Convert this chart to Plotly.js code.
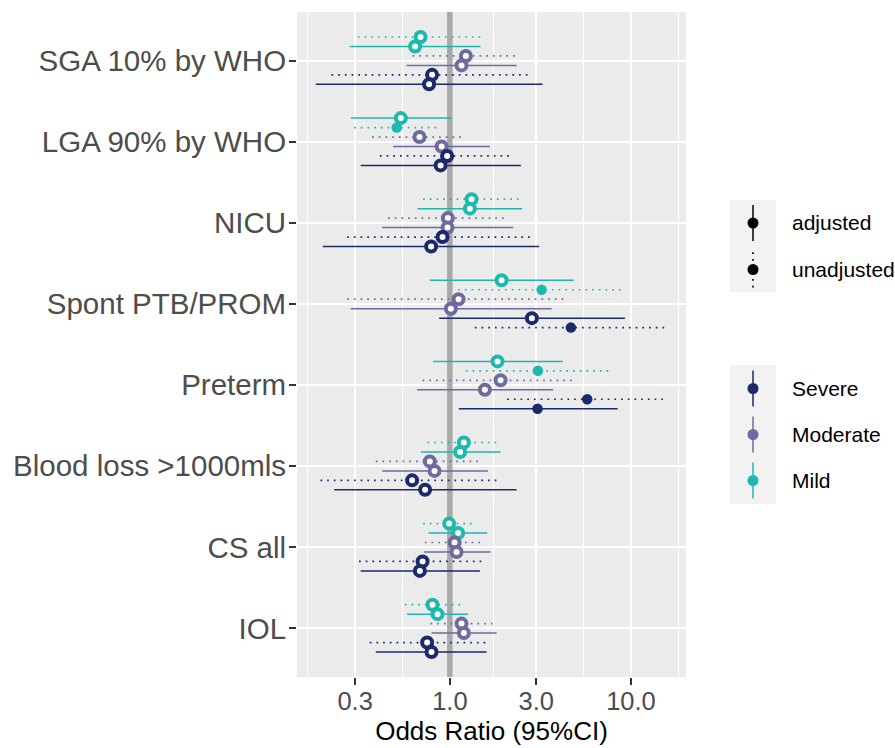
<!DOCTYPE html>
<html>
<head>
<meta charset="utf-8">
<script src="https://cdn.plot.ly/plotly-3.0.1.min.js"></script>
<style>
html, body { margin: 0; padding: 0; background: #ffffff; }
#chart { width: 895px; height: 748px; }
</style>
</head>
<body>
<div id="chart"></div>
<script>
// ---------------- DATA ----------------
const categories = ["SGA 10% by WHO", "LGA 90% by WHO", "NICU", "Spont PTB/PROM",
                    "Preterm", "Blood loss >1000mls", "CS all", "IOL"];
const severityLevels = ["Severe", "Moderate", "Mild"];
const adjustmentTypes = ["adjusted", "unadjusted"];

// Severe
const severeAdjOR   = [0.768, 0.889, 0.788, 2.838, 3.050, 0.730, 0.683, 0.792];
const severeAdjLo   = [0.182, 0.322, 0.199, 0.873, 1.121, 0.230, 0.322, 0.390];
const severeAdjHi   = [3.252, 2.467, 3.114, 9.270, 8.445, 2.336, 1.465, 1.595];
const severeUnadjOR = [0.798, 0.966, 0.911, 4.660, 5.735, 0.619, 0.707, 0.749];
const severeUnadjLo = [0.222, 0.411, 0.271, 1.374, 2.073, 0.193, 0.315, 0.361];
const severeUnadjHi = [2.792, 2.173, 2.923, 15.87, 15.41, 1.873, 1.527, 1.580];
// Moderate
const moderateAdjOR   = [1.160, 0.900, 0.971, 1.013, 1.561, 0.823, 1.089, 1.195];
const moderateAdjLo   = [0.576, 0.486, 0.423, 0.283, 0.660, 0.423, 0.718, 0.792];
const moderateAdjHi   = [2.336, 1.664, 2.237, 3.647, 3.722, 1.622, 1.678, 1.811];
const moderateUnadjOR = [1.226, 0.680, 0.975, 1.117, 1.906, 0.775, 1.062, 1.160];
const moderateUnadjLo = [0.622, 0.372, 0.456, 0.271, 0.707, 0.390, 0.727, 0.782];
const moderateUnadjHi = [2.336, 1.175, 2.039, 4.504, 4.840, 1.465, 1.497, 1.735];
// Mild
const mildAdjOR   = [0.643, 0.536, 1.290, 1.930, 1.834, 1.140, 1.111, 0.855];
const mildAdjLo   = [0.280, 0.284, 0.663, 0.775, 0.809, 0.692, 0.763, 0.581];
const mildAdjHi   = [1.477, 1.017, 2.508, 4.840, 4.195, 1.906, 1.607, 1.262];
const mildUnadjOR = [0.689, 0.509, 1.318, 3.212, 3.063, 1.195, 0.991, 0.802];
const mildUnadjLo = [0.311, 0.296, 0.712, 1.111, 1.226, 0.753, 0.712, 0.564];
const mildUnadjHi = [1.516, 0.855, 2.436, 9.070, 7.725, 1.834, 1.335, 1.146];

// dodge order of rows within each category (top to bottom), as in the source data
const rowOrder = [
  ["Mild|unadjusted", "Mild|adjusted", "Moderate|unadjusted", "Moderate|adjusted", "Severe|unadjusted", "Severe|adjusted"],
  ["Mild|adjusted", "Mild|unadjusted", "Moderate|unadjusted", "Moderate|adjusted", "Severe|unadjusted", "Severe|adjusted"],
  ["Mild|unadjusted", "Mild|adjusted", "Moderate|unadjusted", "Moderate|adjusted", "Severe|unadjusted", "Severe|adjusted"],
  ["Mild|adjusted", "Mild|unadjusted", "Moderate|unadjusted", "Moderate|adjusted", "Severe|adjusted", "Severe|unadjusted"],
  ["Mild|adjusted", "Mild|unadjusted", "Moderate|unadjusted", "Moderate|adjusted", "Severe|unadjusted", "Severe|adjusted"],
  ["Mild|unadjusted", "Mild|adjusted", "Moderate|unadjusted", "Moderate|adjusted", "Severe|unadjusted", "Severe|adjusted"],
  ["Mild|unadjusted", "Mild|adjusted", "Moderate|unadjusted", "Moderate|adjusted", "Severe|unadjusted", "Severe|adjusted"],
  ["Mild|unadjusted", "Mild|adjusted", "Moderate|unadjusted", "Moderate|adjusted", "Severe|unadjusted", "Severe|adjusted"]
];

const xTickVals = [0.3, 1, 3, 10];
const xTickText = ["0.3", "1.0", "3.0", "10.0"];
const referenceOR = 1;

// ---------------- STYLE ----------------
const FONT = "'Liberation Sans', Arial, Helvetica, sans-serif";
const sevColors = { "Severe": "#1a2a6b", "Moderate": "#6f6b9f", "Mild": "#1db8ae" };
const W = 895, H = 748;
const M = { l: 297, r: 209, t: 12, b: 71 };
const dodgeWidth = 0.7;
const yRange = [7.6, -0.6];

const series = {
  "Severe|adjusted":     { or: severeAdjOR,     lo: severeAdjLo,     hi: severeAdjHi },
  "Severe|unadjusted":   { or: severeUnadjOR,   lo: severeUnadjLo,   hi: severeUnadjHi },
  "Moderate|adjusted":   { or: moderateAdjOR,   lo: moderateAdjLo,   hi: moderateAdjHi },
  "Moderate|unadjusted": { or: moderateUnadjOR, lo: moderateUnadjLo, hi: moderateUnadjHi },
  "Mild|adjusted":       { or: mildAdjOR,       lo: mildAdjLo,       hi: mildAdjHi },
  "Mild|unadjusted":     { or: mildUnadjOR,     lo: mildUnadjLo,     hi: mildUnadjHi }
};

function rowY(catIdx, key) {
  const order = rowOrder[catIdx];
  const n = order.length;
  const slot = order.indexOf(key);
  return catIdx + (slot - (n - 1) / 2) * dodgeWidth / n;
}

const traces = [];
// reference line at OR = 1 (drawn first: above grid, below data)
traces.push({
  type: "scatter", mode: "lines", x: [referenceOR, referenceOR], y: yRange,
  showlegend: false, hoverinfo: "skip", line: { color: "#a9a9a9", width: 5.5 }
});
// CI lines
severityLevels.slice().reverse().forEach(sev => {
  adjustmentTypes.forEach(adj => {
    const key = sev + "|" + adj;
    const s = series[key];
    const xs = [], ys = [];
    categories.forEach((c, i) => {
      const y = rowY(i, key);
      xs.push(s.lo[i], s.hi[i], null);
      ys.push(y, y, null);
    });
    traces.push({
      type: "scatter", mode: "lines", x: xs, y: ys, showlegend: false, hoverinfo: "skip",
      line: { color: sevColors[sev], width: adj === "adjusted" ? 1.5 : 1.7,
              dash: adj === "adjusted" ? "solid" : "1.7px,5px" }
    });
  });
});

// points (drawn top to bottom so lower rows overlap upper ones)
const pts = [];
categories.forEach((c, i) => {
  Object.keys(series).forEach(key => {
    const s = series[key];
    const sev = key.split("|")[0];
    const sig = s.lo[i] > referenceOR || s.hi[i] < referenceOR;
    pts.push({ x: s.or[i], y: rowY(i, key), sev: sev, sig: sig, cat: c, key: key });
  });
});
pts.sort((a, b) => a.y - b.y);
traces.push({
  type: "scatter", mode: "markers", showlegend: false,
  x: pts.map(p => p.x), y: pts.map(p => p.y),
  text: pts.map(p => p.cat + " " + p.key),
  hoverinfo: "text+x",
  marker: {
    symbol: "circle",
    opacity: 1,
    size: pts.map(p => p.sig ? 10.5 : 10),
    color: pts.map(p => p.sig ? sevColors[p.sev] : "#ffffff"),
    line: { color: pts.map(p => sevColors[p.sev]), width: pts.map(p => p.sig ? 0 : 4) }
  }
});

// ---------------- LEGEND (drawn manually, ggplot style) ----------------
const pw = W - M.l - M.r, ph = H - M.t - M.b;
const px = X => (X - M.l) / pw;
const py = Y => (H - M.b - Y) / ph;
const shapes = [];
const annotations = [];

const keyX = 753, keyL = 729.5, keyR = 776, textX = 790;
function keyBox(top, bottom) {
  shapes.push({ type: "rect", xref: "paper", yref: "paper", x0: px(keyL), x1: px(keyR), y0: py(bottom), y1: py(top),
                fillcolor: "#f2f2f2", line: { width: 0 }, layer: "above" });
}
function keyGlyph(cy, color, dash, label) {
  shapes.push({ type: "line", xref: "paper", yref: "paper", xsizemode: "pixel", ysizemode: "pixel",
                xanchor: px(keyX), yanchor: py(cy), x0: 0, x1: 0, y0: -18, y1: 18,
                line: { color: color, width: dash === "solid" ? 1.5 : 1.7, dash: dash }, layer: "above" });
  shapes.push({ type: "circle", xref: "paper", yref: "paper", xsizemode: "pixel", ysizemode: "pixel",
                xanchor: px(keyX), yanchor: py(cy), x0: -5.5, x1: 5.5, y0: -5.5, y1: 5.5,
                fillcolor: color, line: { width: 0 }, layer: "above" });
  annotations.push({ xref: "paper", yref: "paper", x: px(textX), y: py(cy), xanchor: "left", yanchor: "middle",
                     text: label, showarrow: false, font: { family: FONT, size: 21, color: "#000000" } });
}
// linetype legend
keyBox(200, 292.5);
adjustmentTypes.forEach((a, k) => keyGlyph(223 + k * 46.5, "#000000", a === "adjusted" ? "solid" : "1.7px,5px", a));
// colour legend
keyBox(365, 504);
severityLevels.forEach((s, k) => keyGlyph(388.5 + k * 46, sevColors[s], "solid", s));

// ---------------- LAYOUT ----------------
const layout = {
  width: W, height: H,
  margin: M,
  paper_bgcolor: "#ffffff",
  plot_bgcolor: "#ebebeb",
  font: { family: FONT, color: "#4d4d4d" },
  showlegend: false,
  xaxis: {
    type: "log",
    range: [-0.844, 1.304],
    tickmode: "array", tickvals: xTickVals, ticktext: xTickText,
    ticks: "outside", ticklen: 7, tickwidth: 1.8, tickcolor: "#333333",
    ticklabelstandoff: -6,
    tickfont: { family: FONT, size: 25.5, color: "#4d4d4d" },
    showgrid: true, gridcolor: "#ffffff", gridwidth: 1.8,
    minor: { tickmode: "array", tickvals: [0.1643, 0.5477, 1.7321, 5.4772, 18.257], showgrid: true,
             gridcolor: "#ffffff", gridwidth: 1.1, ticks: "" },
    zeroline: false, showline: false,
    title: { text: "Odds Ratio (95%CI)", font: { family: FONT, size: 26, color: "#000000" }, standoff: 8 }
  },
  yaxis: {
    range: yRange,
    tickmode: "array", tickvals: categories.map((c, i) => i), ticktext: categories,
    ticks: "outside", ticklen: 7, tickwidth: 1.8, tickcolor: "#333333",
    ticklabelstandoff: -3,
    tickfont: { family: FONT, size: 29.5, color: "#4d4d4d" },
    showgrid: true, gridcolor: "#ffffff", gridwidth: 1.8,
    zeroline: false, showline: false
  },
  shapes: shapes,
  annotations: annotations
};

Plotly.newPlot("chart", traces, layout, { displayModeBar: false, responsive: false });
</script>
</body>
</html>
